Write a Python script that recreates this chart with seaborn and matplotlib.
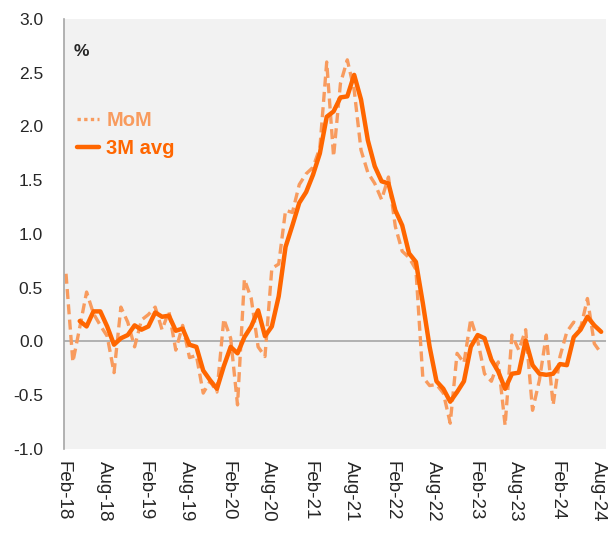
import pandas as pd
import matplotlib.pyplot as plt
import matplotlib.transforms as mtransforms
import seaborn as sns
from matplotlib.lines import Line2D

# Monthly inflation, % MoM, Feb-18 .. Aug-24
mom = [0.63, -0.19, 0.13, 0.46, 0.26, 0.15, 0.05, -0.29, 0.32, 0.18,
       -0.05, 0.20, 0.25, 0.32, 0.11, 0.28, -0.08, 0.15, -0.15, -0.13,
       -0.48, -0.37, -0.47, 0.21, 0.03, -0.59, 0.58, 0.40, -0.05, -0.14,
       0.68, 0.72, 1.22, 1.20, 1.46, 1.56, 1.62, 1.80, 2.60, 1.72,
       2.40, 2.62, 2.34, 1.78, 1.57, 1.47, 1.32, 1.53, 1.07, 0.84,
       0.78, 0.67, -0.33, -0.41, -0.40, -0.48, -0.76, -0.11, -0.20, 0.21,
       0.01, -0.30, -0.37, -0.19, -0.78, 0.06, -0.08, 0.11, -0.64, -0.36,
       0.06, -0.59, -0.14, 0.09, 0.18, 0.12, 0.40, -0.02, -0.11]

# 3-month average, starts Apr-18
avg3m = [0.19, 0.14, 0.28, 0.28, 0.14, -0.03, 0.03, 0.06, 0.15, 0.11,
         0.14, 0.27, 0.23, 0.24, 0.10, 0.12, -0.03, -0.05, -0.27, -0.36,
         -0.44, -0.23, -0.05, -0.11, 0.04, 0.14, 0.29, 0.05, 0.14, 0.42,
         0.88, 1.08, 1.29, 1.39, 1.55, 1.75, 2.09, 2.14, 2.27, 2.28,
         2.48, 2.25, 1.87, 1.63, 1.49, 1.47, 1.22, 1.08, 0.82, 0.74,
         0.36, -0.05, -0.37, -0.44, -0.56, -0.47, -0.37, -0.05, 0.06, 0.03,
         -0.17, -0.28, -0.44, -0.30, -0.29, 0.01, -0.22, -0.30, -0.31, -0.30,
         -0.21, -0.22, 0.04, 0.11, 0.23, 0.15, 0.09]

months = pd.date_range("2018-02-01", periods=len(mom), freq="MS")
df = pd.DataFrame({"t": range(len(mom)), "MoM": mom})
df["3M avg"] = [None, None] + avg3m
df["3M avg"] = df["3M avg"].astype(float)

c_mom = "#F89B5E"
c_avg = "#FF6600"

sns.set_style("white")
plt.rcParams["font.family"] = ["Liberation Sans", "DejaVu Sans"]

fig = plt.figure(figsize=(6.09, 5.33), dpi=100)
ax = fig.add_axes([0.105, 0.1576, 0.89, 0.8068])
ax.set_facecolor("#F2F2F2")

ax.axhline(0, color="#A6A6A6", lw=1.2, zorder=1)
sns.lineplot(data=df, x="t", y="MoM", ax=ax, color=c_mom, lw=2.4,
             dashes=False, zorder=2).lines[-1].set_dashes((3, 1.6))
sns.lineplot(data=df, x="t", y="3M avg", ax=ax, color=c_avg, lw=3.2, zorder=3)

ax.set_xlim(-0.3, 78.7)
ax.set_ylim(-1.0, 3.0)
ax.set_yticks([-1.0, -0.5, 0.0, 0.5, 1.0, 1.5, 2.0, 2.5, 3.0])
ax.set_yticklabels([f"{v:.1f}" for v in ax.get_yticks()], fontsize=12.5)
ticks = list(range(0, len(mom), 6))
ax.set_xticks(ticks)
ax.set_xticklabels([months[i].strftime("%b-%y") for i in ticks],
                   rotation=-90, fontsize=13.5)
ax.tick_params(axis="y", length=0, pad=15)
ax.tick_params(axis="x", length=0, pad=9)
ax.set_xlabel("")
ax.set_ylabel("")

# nudge the month labels a little left so the last one stays inside
shift = mtransforms.ScaledTranslation(-3 / 100, 0, fig.dpi_scale_trans)
for lab in ax.get_xticklabels():
    lab.set_transform(lab.get_transform() + shift)

for s in ["top", "right", "bottom"]:
    ax.spines[s].set_visible(False)
ax.spines["left"].set_color("#A6A6A6")
ax.spines["left"].set_linewidth(1.2)

ax.text(0.018, 0.925, "%", transform=ax.transAxes, fontsize=12.5,
        fontweight="bold", va="center", ha="left")

handles = [Line2D([], [], color=c_mom, lw=2.4, ls=(0, (1, 1))),
           Line2D([], [], color=c_avg, lw=3.2)]
leg = ax.legend(handles, ["MoM", "3M avg"], loc="upper left",
                bbox_to_anchor=(0.024, 0.785), frameon=False, borderpad=0,
                handlelength=1.1, handletextpad=0.35, labelspacing=0.45,
                borderaxespad=0, prop={"size": 14.5, "weight": "bold"})
for txt, col in zip(leg.get_texts(), [c_mom, c_avg]):
    txt.set_color(col)

fig.savefig("out.png", dpi=100)
